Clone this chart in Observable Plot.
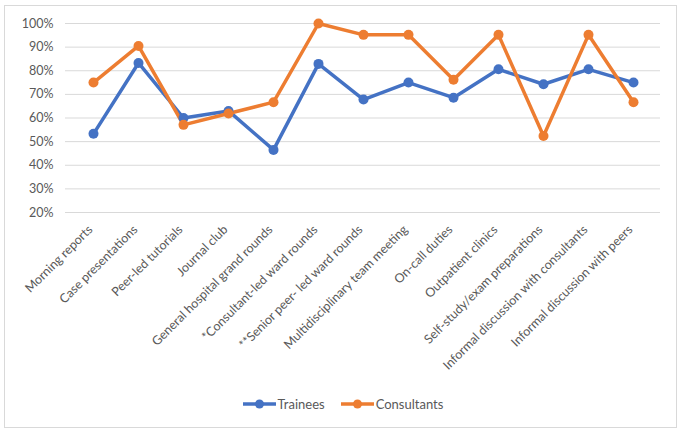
<!DOCTYPE html>
<html>
<head>
<meta charset="utf-8">
<script src="https://cdn.jsdelivr.net/npm/d3@7"></script>
<script src="https://cdn.jsdelivr.net/npm/@observablehq/plot@0.6"></script>
<style>
  html, body { margin: 0; padding: 0; background: #fff; }
  #wrap { position: relative; width: 684px; height: 435px; font-family: Lato, "Open Sans", sans-serif; }
  #frame { position: absolute; left: 4px; top: 5px; width: 673px; height: 423px; border: 1px solid #d9d9d9; box-sizing: border-box; }
  #chart { position: absolute; left: 0; top: 0; }
  #legend { position: absolute; left: 0; top: 396px; width: 684px; display: flex; justify-content: center; gap: 16px; font-size: 13px; color: #595959; padding-left: 2px; box-sizing: border-box; }
  #legend span { display: inline-flex; align-items: center; gap: 2px; }
</style>
</head>
<body>
<div id="wrap">
  <div id="frame"></div>
  <div id="chart"></div>
  <div id="legend"></div>
</div>
<script>
const categories = [
  "Morning reports",
  "Case presentations",
  "Peer-led tutorials",
  "Journal club",
  "General hospital grand rounds",
  "*Consultant-led ward rounds",
  "**Senior peer- led ward rounds",
  "Multidisciplinary team meeting",
  "On-call duties",
  "Outpatient clinics",
  "Self-study/exam preparations",
  "Informal discussion with consultants",
  "Informal discussion with peers"
];
const trainees =    [53.3, 83.3, 60.0, 63.0, 46.5, 82.9, 67.8, 75.0, 68.6, 80.6, 74.3, 80.6, 75.0];
const consultants = [75.0, 90.5, 57.1, 61.9, 66.7, 100.0, 95.2, 95.2, 76.2, 95.2, 52.4, 95.2, 66.7];
const seriesNames = ["Trainees", "Consultants"];
const seriesColors = ["#4472C4", "#ED7D31"];
const yTicks = [0.2, 0.3, 0.4, 0.5, 0.6, 0.7, 0.8, 0.9, 1.0];

const data = [];
[trainees, consultants].forEach((vals, s) => {
  vals.forEach((v, i) => data.push({ cat: categories[i], value: v / 100, series: seriesNames[s] }));
});

const chart = Plot.plot({
  width: 684,
  height: 390,
  marginTop: 23,
  marginLeft: 65,
  marginRight: 24,
  marginBottom: 178,
  style: { fontFamily: "Lato, 'Open Sans', sans-serif", fontSize: "12.5px", color: "#595959", background: "transparent" },
  x: { type: "point", domain: categories, padding: 0.5, label: null },
  y: { domain: [0.2, 1.0], label: null },
  color: { domain: seriesNames, range: seriesColors },
  marks: [
    Plot.gridY(yTicks, { stroke: "#d9d9d9", strokeOpacity: 1, strokeWidth: 1 }),
    Plot.axisY(yTicks, { tickSize: 0, tickPadding: 12, tickFormat: d3.format(".0%"), fill: "#595959", fontSize: 12.5 }),
    Plot.axisX({ tickSize: 0, tickPadding: 10, tickRotate: -45, fill: "#595959", fontSize: 12.5, dx: -3, dy: 5 }),
    Plot.line(data, { x: "cat", y: "value", z: "series", stroke: "series", strokeWidth: 3.5, strokeLinejoin: "round" }),
    Plot.dot(data, { x: "cat", y: "value", fill: "series", r: 5 })
  ]
});
document.getElementById("chart").appendChild(chart);

const legend = document.getElementById("legend");
seriesNames.forEach((name, i) => {
  const item = document.createElement("span");
  item.innerHTML = `<svg width="33" height="12"><line x1="0" y1="6" x2="33" y2="6" stroke="${seriesColors[i]}" stroke-width="3.5"/><circle cx="16.5" cy="6" r="4.5" fill="${seriesColors[i]}"/></svg>${name}`;
  legend.appendChild(item);
});
</script>
</body>
</html>
